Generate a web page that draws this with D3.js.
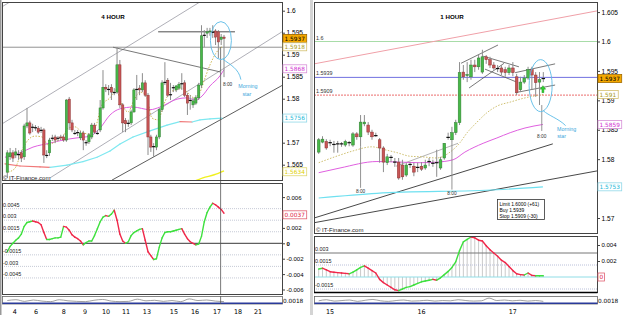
<!DOCTYPE html>
<html><head><meta charset="utf-8">
<script src="https://cdn.jsdelivr.net/npm/d3@7/dist/d3.min.js"></script>
<style>
html,body{margin:0;padding:0;background:#fff;}
svg{display:block;font-family:"DejaVu Sans",Verdana,sans-serif;}
</style></head><body>
<svg id="c" width="625" height="315"></svg>
<script>
// ---------- DATA: 4 HOUR (left) ----------
const leftOpen = [1.5633,1.5668,1.5677,1.5672,1.5672,1.5677,1.5668,1.5738,1.5745,1.5736,
1.5733,1.5733,1.5729,1.5729,1.5672,1.5677,1.5711,1.5713,1.5711,1.5713,
1.5713,1.5706,1.5799,1.5745,1.5722,1.5722,1.5711,1.5722,1.5699,1.5702,
1.5713,1.5740,1.5722,1.5729,1.5779,1.5826,1.5820,1.5826,1.5815,1.5815,
1.5877,1.5786,1.5750,1.5745,1.5745,1.5770,1.5820,1.5824,1.5820,1.5836,
1.5808,1.5713,1.5690,1.5690,1.5713,1.5775,1.5838,1.5842,1.5808,1.5824,
1.5820,1.5824,1.5833,1.5836,1.5808,1.5797,1.5786,1.5790,1.5802,1.5831,
1.5945,1.5949,1.5952,1.5952,1.5954,1.5952,1.5935,1.5940];
const leftHigh = [1.5683,1.5688,1.5683,1.5688,1.5683,1.5683,1.5743,1.5779,1.5750,1.5743,
1.5740,1.5738,1.5736,1.5733,1.5683,1.5711,1.5718,1.5718,1.5715,1.5718,
1.5718,1.5799,1.5804,1.5752,1.5729,1.5729,1.5727,1.5727,1.5706,1.5722,
1.5745,1.5745,1.5729,1.5797,1.5865,1.5833,1.5831,1.5833,1.5824,1.5917,
1.5888,1.5790,1.5756,1.5752,1.5775,1.5824,1.5854,1.5831,1.5858,1.5842,
1.5813,1.5718,1.5699,1.5718,1.5779,1.5842,1.5883,1.5847,1.5836,1.5831,
1.5831,1.5838,1.5858,1.5842,1.5813,1.5808,1.5802,1.5808,1.5836,1.5967,
1.5956,1.5961,1.5961,1.5967,1.5958,1.5956,1.5947,1.5945];
const leftLow = [1.5620,1.5661,1.5656,1.5665,1.5661,1.5656,1.5661,1.5733,1.5718,1.5724,
1.5727,1.5720,1.5722,1.5654,1.5665,1.5670,1.5704,1.5699,1.5704,1.5706,
1.5702,1.5702,1.5729,1.5724,1.5718,1.5715,1.5706,1.5683,1.5693,1.5697,
1.5708,1.5720,1.5718,1.5724,1.5775,1.5815,1.5808,1.5797,1.5808,1.5811,
1.5779,1.5724,1.5724,1.5736,1.5740,1.5768,1.5797,1.5808,1.5815,1.5804,
1.5672,1.5679,1.5668,1.5683,1.5708,1.5770,1.5831,1.5804,1.5797,1.5815,
1.5815,1.5820,1.5820,1.5804,1.5763,1.5775,1.5779,1.5786,1.5797,1.5824,
1.5917,1.5938,1.5943,1.5938,1.5922,1.5892,1.5922,1.5849];
const leftClose = [1.5677,1.5677,1.5665,1.5679,1.5673,1.5665,1.5738,1.5745,1.5722,1.5735,
1.5734,1.5724,1.5728,1.5672,1.5671,1.5706,1.5710,1.5706,1.5710,1.5711,
1.5706,1.5797,1.5745,1.5729,1.5721,1.5723,1.5722,1.5706,1.5700,1.5718,
1.5740,1.5724,1.5721,1.5779,1.5826,1.5822,1.5821,1.5815,1.5814,1.5877,
1.5786,1.5745,1.5743,1.5744,1.5770,1.5820,1.5821,1.5820,1.5836,1.5808,
1.5713,1.5690,1.5691,1.5713,1.5775,1.5836,1.5837,1.5808,1.5809,1.5825,
1.5829,1.5833,1.5834,1.5808,1.5790,1.5796,1.5795,1.5802,1.5831,1.5943,
1.5944,1.5952,1.5954,1.5951,1.5940,1.5929,1.5940,1.5937];
const leftOsc = [-0.0011,-0.0004,0.0000,0.0004,0.0007,0.0012,0.0022,0.0027,0.0028,0.0029,
0.0028,0.0027,0.0024,0.0014,0.0005,0.0005,0.0006,0.0007,0.0007,0.0008,
0.0022,0.0021,0.0017,0.0011,0.0008,0.0006,0.0003,-0.0002,0.0001,0.0003,
0.0003,0.0010,0.0019,0.0028,0.0034,0.0036,0.0035,0.0038,0.0043,0.0030,
0.0012,0.0003,0.0000,0.0002,0.0010,0.0014,0.0016,0.0018,0.0019,0.0004,
-0.0011,-0.0016,-0.0021,-0.0020,-0.0005,0.0007,0.0014,0.0015,0.0015,0.0016,
0.0017,0.0018,0.0019,0.0012,0.0006,0.0002,0.0000,-0.0002,-0.0001,0.0009,
0.0028,0.0040,0.0047,0.0052,0.0050,0.0047,0.0044,0.0039];
// moving averages: [candle index, price]
const leftFastMA = [[0.25,1.5633],[2.74,1.5642],[5.22,1.5683],[7.36,1.5706],[9.84,1.5715],[12.33,1.5713],[14.46,1.5695],[16.95,1.5702],[19.44,1.5711],[21.57,1.5733],[24.06,1.5736],[26.55,1.5724],[28.68,1.5720],[31.17,1.5733],[33.65,1.5786],[36.5,1.5802],[38.63,1.5820],[40.76,1.5786],[42.89,1.5770],[45.02,1.5797],[47.16,1.5815],[49.29,1.5808],[51.42,1.5756],[53.55,1.5752],[55.69,1.5788],[57.82,1.5815],[59.95,1.5820],[62.08,1.5824],[64.22,1.5813],[66.35,1.5802],[68.48,1.5815],[70.26,1.5847],[72.04,1.5877],[74.17,1.5904],[76.3,1.5918]];
const leftMidMA = [[-0.82,1.5667],[4.51,1.5677],[9.13,1.5690],[15.17,1.5699],[19.79,1.5706],[24.77,1.5711],[29.39,1.5715],[32.94,1.5733],[36.5,1.5763],[40.05,1.5777],[44.67,1.5781],[50.71,1.5775],[54.26,1.5781],[60.3,1.5799],[63.85,1.5802],[67.05,1.5797],[69.19,1.5806],[72.03,1.5829],[75.58,1.5852],[77.0,1.5866]];
const leftSlowMA = [[-0.82,1.5652],[4.51,1.5647],[11.62,1.5645],[15.17,1.5644],[21.22,1.5649],[26.9,1.5657],[31.88,1.5667],[36.5,1.5681],[40.05,1.5697],[44.67,1.5713],[50.71,1.5727],[56.75,1.5740],[61.37,1.5748],[65.63,1.5747],[68.48,1.5752],[72.03,1.5754],[76.3,1.5756]];
const leftLongMA = [[66.7,1.5613],[69.5,1.5620],[73.5,1.5627],[77.0,1.5636]];
const leftDayTicks = [2.7,10.2,20.1,27.6,35.1,42.2,49.6,59.2,66.7,74.5,82,89.1];
const leftDayLabels = ["4","6","8","9","10","11","13","15","16","17","18","21"];
const leftPriceTicks = [1.565,1.57,1.58,1.585,1.59,1.595,1.6];
const leftOscTicks = [-0.006,-0.004,-0.002,0,0.002,0.006];
const leftOscLevels = [0.0045,0.003,0.0015,-0.0015,-0.003,-0.0045];
const leftMini = [0.0009,0.0012,0.0006,0.0011,0.0007,0.0005,0.0012,0.0008,0.0006,0.0005,0.0010,0.0013,0.0007,0.0005,0.0006,0.0014,0.0008,0.0010,0.0006,0.0009,0.0005,0.0015,0.0009,0.0011,0.0007,0.0005];

// ---------- DATA: 1 HOUR (right) ----------
const rightOpen = [1.5812,1.5829,1.5830,1.5827,1.5826,1.5826,1.5825,1.5824,1.5827,1.5824,
1.5843,1.5838,1.5860,1.5858,1.5846,1.5841,1.5833,1.5819,1.5794,1.5802,
1.5794,1.5795,1.5790,1.5773,1.5790,1.5788,1.5787,1.5788,1.5785,1.5795,
1.5794,1.5794,1.5785,1.5802,1.5838,1.5833,1.5845,1.5862,1.5948,1.5942,
1.5940,1.5960,1.5957,1.5948,1.5974,1.5969,1.5960,1.5955,1.5955,1.5952,
1.5947,1.5955,1.5940,1.5918,1.5931,1.5938,1.5952,1.5943,1.5931,1.5937];
const rightHigh = [1.5836,1.5839,1.5834,1.5833,1.5831,1.5831,1.5829,1.5833,1.5831,1.5846,
1.5846,1.5875,1.5875,1.5863,1.5850,1.5845,1.5836,1.5822,1.5809,1.5807,
1.5802,1.5802,1.5799,1.5794,1.5795,1.5794,1.5794,1.5795,1.5799,1.5802,
1.5799,1.5816,1.5804,1.5827,1.5845,1.5855,1.5867,1.5965,1.5960,1.5965,
1.5969,1.5969,1.5977,1.5986,1.5977,1.5974,1.5965,1.5960,1.5960,1.5957,
1.5960,1.5965,1.5945,1.5940,1.5943,1.5957,1.5957,1.5948,1.5948,1.5948];
const rightLow = [1.5809,1.5827,1.5816,1.5822,1.5811,1.5811,1.5821,1.5821,1.5822,1.5821,
1.5833,1.5821,1.5856,1.5841,1.5833,1.5838,1.5794,1.5778,1.5790,1.5795,
1.5787,1.5765,1.5765,1.5770,1.5785,1.5771,1.5778,1.5780,1.5782,1.5788,
1.5787,1.5770,1.5782,1.5799,1.5833,1.5829,1.5841,1.5858,1.5935,1.5931,
1.5935,1.5948,1.5952,1.5945,1.5962,1.5955,1.5952,1.5948,1.5943,1.5940,
1.5943,1.5941,1.5909,1.5914,1.5928,1.5935,1.5918,1.5906,1.5892,1.5931];
const rightClose = [1.5833,1.5834,1.5819,1.5828,1.5825,1.5826,1.5826,1.5830,1.5828,1.5843,
1.5838,1.5863,1.5863,1.5846,1.5838,1.5840,1.5819,1.5795,1.5804,1.5803,
1.5795,1.5768,1.5770,1.5790,1.5791,1.5778,1.5786,1.5783,1.5790,1.5796,
1.5793,1.5794,1.5799,1.5827,1.5837,1.5845,1.5862,1.5947,1.5940,1.5944,
1.5960,1.5957,1.5972,1.5974,1.5969,1.5960,1.5955,1.5954,1.5948,1.5947,
1.5955,1.5947,1.5913,1.5931,1.5938,1.5952,1.5943,1.5930,1.5935,1.5937];
const rightOsc = [0.0010,0.0011,0.0009,0.00066,0.0006,0.00055,0.0005,0.00045,0.0004,0.0006,
0.0009,0.0012,0.0014,0.0011,0.0008,0.0005,-0.0003,-0.0007,-0.0010,-0.0013,
-0.0016,-0.0017,-0.0015,-0.0013,-0.0012,-0.0010,-0.0008,-0.0006,-0.0005,-0.0004,
-0.0003,-0.0004,-0.0001,0.0003,0.0007,0.0012,0.0019,0.0033,0.0044,0.0047,
0.0050,0.0049,0.0046,0.0045,0.0039,0.0034,0.0030,0.0026,0.0021,0.0018,
0.0013,0.0008,0.0004,0.0003,0.00025,0.0005,0.0002,0.00016,0.00016,0.00016];
const rightFastMA = [[0,1.5794],[5.6,1.5807],[9,1.5814],[14,1.5821],[17.4,1.5816],[20.6,1.5811],[24,1.5805],[27.1,1.5804],[31,1.5802],[34.5,1.5812],[37.1,1.5828],[39,1.5845],[41.6,1.5863],[44.2,1.5879],[47.1,1.5891],[50.3,1.5897],[52.9,1.5902],[55.5,1.5906],[58.1,1.5909],[58.9,1.5910]];
const rightMidMA = [[0,1.5777],[5.6,1.5785],[15.3,1.5796],[21.4,1.5795],[26.6,1.5794],[31,1.5795],[35.3,1.5799],[38.4,1.5812],[43.2,1.5827],[46.8,1.5836],[50.3,1.5845],[54.2,1.5853],[58.9,1.5859]];
const rightSlowMA = [[0,1.5734],[15.3,1.5742],[46.8,1.5748],[58.9,1.5753]];
const rightDayTicks = [3,27,51];
const rightDayLabels = ["15","16","17"];
const rightPriceTicks = [1.57,1.58,1.585,1.59,1.595,1.6,1.605];
const rightOscTicks = [0,0.002,0.004];
const rightMini = [0.0008,0.0012,0.0007,0.0009,0.0011,0.0006,0.0010,0.0013,0.0008,0.0006,0.0009,0.0011,0.0007,0.0008,0.0010,0.0007,0.0009,0.0008,0.0012,0.0009,0.0007,0.0008,0.0018,0.0009,0.0011,0.0008,0.0010,0.0007,0.0009,0.0006];
const tradeLevels = {limit:1.6, buy:1.5939, stop:1.5909};
const tradeText = ["Limit 1.6000 (+61)","Buy 1.5939","Stop 1.5909 (-30)"];

// ---------- SCALES ----------
const svg = d3.select('#c');
const xL = d3.scaleLinear().domain([0,77]).range([7.3,224]);
const yL = d3.scaleLinear().domain([1.565,1.6]).range([164.7,10.7]);
const yLO = d3.scaleLinear().domain([-0.006,0.006]).range([289.5,197.1]);
const xR = d3.scaleLinear().domain([0,59]).range([318.7,543.3]);
const yR = d3.scaleLinear().domain([1.57,1.6]).range([218,41.5]);
const yRO = d3.scaleLinear().domain([0,0.004]).range([277,245]);
const yMini = d3.scaleLinear().domain([0,0.0022]).range([303,297]);

svg.append('rect').attr('x',0).attr('y',0).attr('width',1.5).attr('height',315).attr('fill','#999');
svg.append('rect').attr('x',310).attr('y',0).attr('width',3).attr('height',315).attr('fill','#d4d4d4');

function panel(x0,y0,x1,y1,id){
  svg.append('clipPath').attr('id',id).append('rect').attr('x',x0).attr('y',y0).attr('width',x1-x0).attr('height',y1-y0);
  return {x0,y0,x1,y1};
}
const PL = panel(2,2,282,180,'cl');
const PLO = panel(2,183,282,294,'clo');
const PR = panel(314,2,597,233,'cr');
const PRO = panel(314,236,597,292,'cro');

const gL = svg.append('g').attr('clip-path','url(#cl)');
const gLO = svg.append('g').attr('clip-path','url(#clo)');
const gR = svg.append('g').attr('clip-path','url(#cr)');
const gRO = svg.append('g').attr('clip-path','url(#cro)');

function seg(g,x1,y1,x2,y2,col,w,dash){
  const l=g.append('line').attr('x1',x1).attr('y1',y1).attr('x2',x2).attr('y2',y2).attr('stroke',col).attr('stroke-width',w||1);
  if(dash) l.attr('stroke-dasharray',dash);
  return l;
}
function maLine(g,pts,xs,ys,col,w,dash){
  const p=g.append('path').attr('d',d3.line().x(d=>xs(d[0])).y(d=>ys(d[1])).curve(d3.curveMonotoneX)(pts))
    .attr('fill','none').attr('stroke',col).attr('stroke-width',w);
  if(dash) p.attr('stroke-dasharray',dash);
}
function slopeLine(g,pts,xs,ys,up,down,w){
  for(let i=0;i<pts.length-1;i++){
    seg(g,xs(pts[i][0]),ys(pts[i][1]),xs(pts[i+1][0]),ys(pts[i+1][1]),pts[i+1][1]>=pts[i][1]?up:down,w).attr('stroke-linecap','round');
  }
}
function candles(g,xs,ys,O,Hh,Lw,C,bw){
  const idx=d3.range(O.length);
  g.selectAll(null).data(idx).enter().append('line')
    .attr('x1',i=>xs(i)).attr('x2',i=>xs(i)).attr('y1',i=>ys(Hh[i])).attr('y2',i=>ys(Lw[i]))
    .attr('stroke','#8c8c8c').attr('stroke-width',1);
  g.selectAll(null).data(idx.filter(i=>Math.abs(O[i]-C[i])>=0.00015)).enter().append('rect')
    .attr('x',i=>xs(i)-bw/2).attr('width',bw)
    .attr('y',i=>ys(Math.max(O[i],C[i]))).attr('height',i=>Math.abs(ys(O[i])-ys(C[i])))
    .attr('fill',i=>C[i]>O[i]?'#48b848':'#c85656')
    .attr('stroke',i=>C[i]>O[i]?'#2f7d32':'#8e3434').attr('stroke-width',0.5);
  g.selectAll(null).data(idx.filter(i=>Math.abs(O[i]-C[i])<0.00015)).enter().append('line')
    .attr('x1',i=>xs(i)-bw/2-0.4).attr('x2',i=>xs(i)+bw/2+0.4)
    .attr('y1',i=>ys(C[i])).attr('y2',i=>ys(C[i])).attr('stroke','#111').attr('stroke-width',1.2);
}
function tag(x,y,txt,fill,stroke,color){
  const w=txt.length*3.45+3;
  svg.append('rect').attr('x',x).attr('y',y-4).attr('width',w).attr('height',8)
    .attr('fill',fill).attr('stroke',stroke).attr('stroke-width',0.8);
  svg.append('text').attr('x',x+1.6).attr('y',y+2.1).text(txt).attr('fill',color).style('font-size','5.8px');
}
function txt(g,x,y,s,size,col,anchor,weight,fam){
  const t=g.append('text').attr('x',x).attr('y',y).text(s).attr('fill',col||'#000').style('font-size',size+'px');
  if(anchor) t.attr('text-anchor',anchor);
  if(weight) t.style('font-weight',weight);
  if(fam) t.style('font-family',fam);
  return t;
}
const LS='"Liberation Sans",Arial,sans-serif';

// ================= LEFT MAIN =================
seg(gL,xL(-2.59),yL(1.5740),xL(68.5),yL(1.6020),'#9a9aa4',0.8);
seg(gL,xL(-2.59),yL(1.6006),xL(0.96),yL(1.6020),'#9a9aa4',0.8);
seg(gL,xL(15.17),yL(1.5620),xL(97.6),yL(1.5952),'#9a9aa4',0.8);
seg(gL,xL(37.2),yL(1.5615),xL(97.6),yL(1.5830),'#333',0.8);
seg(gL,xL(37.56),yL(1.5917),xL(75.58),yL(1.5861),'#555',0.8);
seg(gL,PL.x0,yL(1.5917),PL.x1,yL(1.5917),'#777',0.8);
seg(gL,xL(53.6),yL(1.5952),xL(80.9),yL(1.5952),'#222',0.8);
slopeLine(gL,leftSlowMA,xL,yL,'#7ee8f0','#f07878',1.2);
maLine(gL,leftMidMA,xL,yL,'#e060e0',1);
maLine(gL,leftFastMA,xL,yL,'#c8b040',0.9,'1.5,1.5');
maLine(gL,leftLongMA,xL,yL,'#f0f020',1.5);
candles(gL,xL,yL,leftOpen,leftHigh,leftLow,leftClose,2.3);
seg(svg,xL(75.8),yL(1.5917),xL(75.8),294,'#555',0.8);

function frame(p){svg.append('rect').attr('x',p.x0+0.5).attr('y',p.y0+0.5).attr('width',p.x1-p.x0).attr('height',p.y1-p.y0).attr('fill','none').attr('stroke','#444').attr('stroke-width',1);}
[PL,PLO,PR,PRO].forEach(frame);

txt(svg,113,19,'4 HOUR',6.2,'#000','middle','bold',LS);
txt(svg,3,179.5,'© IT-Finance.com',6,'#222',null,null,LS);
const lcx=xL(75.9), lcy=yL(1.5932);
svg.append('ellipse').attr('cx',lcx).attr('cy',lcy).attr('rx',10.5).attr('ry',19).attr('fill','none').attr('stroke','#5bbbe6').attr('stroke-width',0.9);
svg.append('path').attr('d',`M${lcx+2},${lcy+18.5} C${lcx+9},${lcy+24} ${lcx+18},${lcy+28} ${lcx+20},${lcy+39}`).attr('fill','none').attr('stroke','#5bbbe6').attr('stroke-width',0.9);
txt(svg,lcx+27,lcy+47,'Morning',5.3,'#3aa6dc','middle',null,LS);
txt(svg,lcx+26,lcy+55,'star',5.3,'#3aa6dc','middle',null,LS);
txt(svg,lcx+6.7,lcy+45,'8:00',4.8,'#333','middle',null,LS);

const axL = svg.append('g').attr('transform','translate(282,0)')
  .call(d3.axisRight(yL).tickValues(leftPriceTicks).tickSize(3).tickPadding(1.5).tickFormat(d=>String(+d.toFixed(3))));
axL.select('.domain').remove();
axL.selectAll('text').style('font-size','6.6px').attr('fill','#000');
axL.selectAll('line').attr('stroke','#444');
tag(283,yL(1.5937),'1.5937','#f5a800','#a06a00','#000');
tag(283,yL(1.5918),'1.5918','#fff','#d4c070','#a89a20');
tag(283,yL(1.5868),'1.5868','#fff','#d890d8','#d030d0');
tag(283,yL(1.5756),'1.5756','#fff','#90d8e8','#20b8d8');
tag(283,yL(1.5634),'1.5634','#fff','#e0d870','#e0d000');

// ================= LEFT OSC =================
leftOscLevels.forEach(v=>seg(gLO,PLO.x0,yLO(v),PLO.x1,yLO(v),'#b8bccc',0.8,'1,1'));
seg(gLO,PLO.x0,yLO(0),PLO.x1,yLO(0),'#222',0.9);
const leftOscPts = leftOsc.map((v,i)=>[i,v]);
slopeLine(gLO,leftOscPts,xL,yLO,'#3ee03e','#f0284a',1.4);
const lvlLab = ['0.0045','0.003','0.0015','-0.0015','-0.003','-0.0045'];
leftOscLevels.forEach((v,i)=>txt(svg,3,yLO(v)-1.8,lvlLab[i],5.4,'#222',null,null,LS));
const axLO = svg.append('g').attr('transform','translate(282,0)')
  .call(d3.axisRight(yLO).tickValues(leftOscTicks).tickSize(3).tickPadding(1.5).tickFormat(d=>d===0?'0':String(+d.toFixed(3))));
axLO.select('.domain').remove();
axLO.selectAll('text').style('font-size','6px').attr('fill','#000').style('font-weight',d=>d===0?'bold':'normal');
axLO.selectAll('line').attr('stroke','#444');
tag(283,yLO(0.0037),'0.0037','#fff','#e06070','#e02040');

svg.append('rect').attr('x',2.5).attr('y',296.5).attr('width',280).attr('height',7.5).attr('fill','#fff').attr('stroke','#666').attr('stroke-width',0.8);
const xLM = d3.scaleLinear().domain([0,leftMini.length-1]).range([xL(0),xL(77)]);
svg.append('path').attr('d',d3.line().x((d,i)=>xLM(i)).y(d=>yMini(d)).curve(d3.curveMonotoneX)(leftMini)).attr('fill','none').attr('stroke','#888').attr('stroke-width',0.8);
seg(svg,2.5,303.3,282.5,303.3,'#2a3a9a',1.4);
txt(svg,283,302.5,'0.0018',5.8,'#000');
leftDayTicks.forEach((t,i)=>txt(svg,xL(t),313.5,leftDayLabels[i],6.4,'#000','middle'));
seg(svg,xL(75.8),296,xL(75.8),304,'#555',0.8);

// ================= RIGHT MAIN =================
seg(gR,PR.x0,yR(tradeLevels.limit),PR.x1,yR(tradeLevels.limit),'#a8dca8',1.2);
seg(gR,PR.x0,yR(tradeLevels.buy),PR.x1,yR(tradeLevels.buy),'#7070e0',1);
seg(gR,PR.x0,yR(tradeLevels.stop),PR.x1,yR(tradeLevels.stop),'#f08a8a',1.2,'2,1');
seg(gR,xR(-1.2),yR(1.5962),xR(73.1),yR(1.6052),'#f0a0a8',1);
[[37.4,1.5963,47.1,1.5994],[39.5,1.5921,48.7,1.5963],[43.2,1.5975,52.6,1.5957],[43.7,1.5953,52.4,1.5930],[51.6,1.5947,62.1,1.5962],[51.6,1.5913,62.1,1.5926]]
  .forEach(a=>seg(gR,xR(a[0]),yR(a[1]),xR(a[2]),yR(a[3]),'#555',0.8));
seg(gR,xR(-1.2),yR(1.5700),xR(61.5),yR(1.5826),'#333',0.9);
seg(gR,xR(-1.2),yR(1.5692),xR(73.1),yR(1.5780),'#333',0.9);
seg(gR,xR(20.3),yR(1.5788),xR(36.6),yR(1.5827),'#aaa',0.9);
maLine(gR,rightSlowMA,xR,yR,'#6ee0f0',1.2);
maLine(gR,rightMidMA,xR,yR,'#e060e0',1);
maLine(gR,rightFastMA,xR,yR,'#c8b860',0.9,'1.5,1.5');
seg(gR,xR(11),yR(rightLow[11]),xR(11),yR(1.5753)+1,'#888',0.9);
seg(gR,xR(35),yR(rightLow[35]),xR(35),yR(1.5750)+1,'#888',0.9);
candles(gR,xR,yR,rightOpen,rightHigh,rightLow,rightClose,2.7);
seg(svg,xR(58.6),yR(1.5892),xR(58.6),yR(1.5848),'#888',0.9);
txt(svg,xR(11),yR(1.5753)+6,'8:00',4.8,'#333','middle',null,LS);
txt(svg,xR(35),yR(1.5750)+6,'8:00',4.8,'#333','middle',null,LS);
txt(svg,316,yR(tradeLevels.limit)-2,'1.6',5.4,'#333',null,null,LS);
txt(svg,316,yR(tradeLevels.buy)-2,'1.5939',5.4,'#333',null,null,LS);
txt(svg,316,yR(tradeLevels.stop)-2,'1.5909',5.4,'#333',null,null,LS);
txt(svg,452,19,'1 HOUR',6.2,'#000','middle','bold',LS);
txt(svg,316,232,'© IT-Finance.com',6,'#222',null,null,LS);
const rcx=xR(58.3), rcy=yR(1.5925);
svg.append('ellipse').attr('cx',rcx).attr('cy',rcy).attr('rx',11.5).attr('ry',26).attr('fill','none').attr('stroke','#5bbbe6').attr('stroke-width',0.9);
svg.append('path').attr('d',`M${rcx+2.5},${rcy+25} C${rcx+8},${rcy+30} ${rcx+18},${rcy+33} ${rcx+25},${rcy+40}`).attr('fill','none').attr('stroke','#5bbbe6').attr('stroke-width',0.9);
txt(svg,rcx+26,rcy+45,'Morning',5.3,'#3aa6dc','middle',null,LS);
txt(svg,rcx+21,rcy+52,'star',5.3,'#3aa6dc','middle',null,LS);
txt(svg,xR(58.6),rcy+52,'8:00',4.8,'#333','middle',null,LS);
const ax=xR(58.9), ayT=yR(1.5925);
svg.append('path').attr('d',`M${ax},${ayT} L${ax-2.8},${ayT+3.5} L${ax-1},${ayT+3.5} L${ax-1},${ayT+7} L${ax+1},${ayT+7} L${ax+1},${ayT+3.5} L${ax+2.8},${ayT+3.5} Z`).attr('fill','#30d030').attr('stroke','#1a8a1a').attr('stroke-width',0.4);
svg.append('rect').attr('x',497.5).attr('y',199.5).attr('width',47).attr('height',20).attr('fill','#fff').attr('stroke','#333').attr('stroke-width',0.8);
tradeText.forEach((t,i)=>txt(svg,499.5,205.5+i*6,t,4.9,'#000',null,null,LS));

const axR = svg.append('g').attr('transform','translate(597,0)')
  .call(d3.axisRight(yR).tickValues(rightPriceTicks).tickSize(3).tickPadding(1.5).tickFormat(d=>String(+d.toFixed(3))));
axR.select('.domain').remove();
axR.selectAll('text').style('font-size','6.6px').attr('fill','#000');
axR.selectAll('line').attr('stroke','#444');
tag(598,yR(1.5937),'1.5937','#f5a800','#a06a00','#000');
tag(598,yR(1.591),'1.591','#fff','#d4c070','#a89a20');
tag(598,yR(1.5859),'1.5859','#fff','#d890d8','#d030d0');
tag(598,yR(1.5753),'1.5753','#fff','#90d8e8','#20b8d8');

// ================= RIGHT OSC =================
const rOsc = rightOsc.map((v,i)=>[i,v]);
gRO.selectAll(null).data(rOsc).enter().append('line')
  .attr('x1',d=>xR(d[0])).attr('x2',d=>xR(d[0])).attr('y1',yRO(0)).attr('y2',d=>yRO(d[1]))
  .attr('stroke','#bdbdbd').attr('stroke-width',0.8);
seg(gRO,PRO.x0,yRO(0.003),PRO.x1,yRO(0.003),'#777',1);
seg(gRO,PRO.x0,yRO(0.0015),PRO.x1,yRO(0.0015),'#a8b0d0',0.8,'1,1');
seg(gRO,PRO.x0,yRO(0),PRO.x1,yRO(0),'#90dde6',1);
seg(gRO,PRO.x0,yRO(-0.0015),PRO.x1,yRO(-0.0015),'#a8b0d0',0.8,'1,1');
slopeLine(gRO,rOsc,xR,yRO,'#3ee03e','#f0284a',1.4);
seg(svg,314,292.5,597.5,292.5,'#000',1.6);
txt(svg,315,yRO(0.003)-1.8,'0.003',5.4,'#222',null,null,LS);
txt(svg,315,yRO(0.0015)-1.8,'0.0015',5.4,'#222',null,null,LS);
txt(svg,315,yRO(-0.0015)-1.8,'-0.0015',5.4,'#222',null,null,LS);
const axRO = svg.append('g').attr('transform','translate(597,0)')
  .call(d3.axisRight(yRO).tickValues(rightOscTicks.filter(v=>v!==0)).tickSize(3).tickPadding(1.5).tickFormat(d=>String(+d.toFixed(3))));
axRO.select('.domain').remove();
axRO.selectAll('text').style('font-size','6px').attr('fill','#000');
axRO.selectAll('line').attr('stroke','#444');
tag(598,yRO(rightOscTicks[0]),'0','#fff','#e06070','#e02040');

svg.append('rect').attr('x',314.5).attr('y',296.5).attr('width',283).attr('height',7.5).attr('fill','#fff').attr('stroke','#666').attr('stroke-width',0.8);
const xRM = d3.scaleLinear().domain([0,rightMini.length-1]).range([xR(0),xR(59)]);
svg.append('path').attr('d',d3.line().x((d,i)=>xRM(i)).y(d=>yMini(d)).curve(d3.curveMonotoneX)(rightMini)).attr('fill','none').attr('stroke','#888').attr('stroke-width',0.8);
seg(svg,314.5,303.3,597.5,303.3,'#2a3a9a',1.4);
txt(svg,598,302.5,'0.0018',5.8,'#000');
rightDayTicks.forEach((t,i)=>txt(svg,xR(t),313.5,rightDayLabels[i],6.4,'#000','middle'));
</script>
</body></html>
